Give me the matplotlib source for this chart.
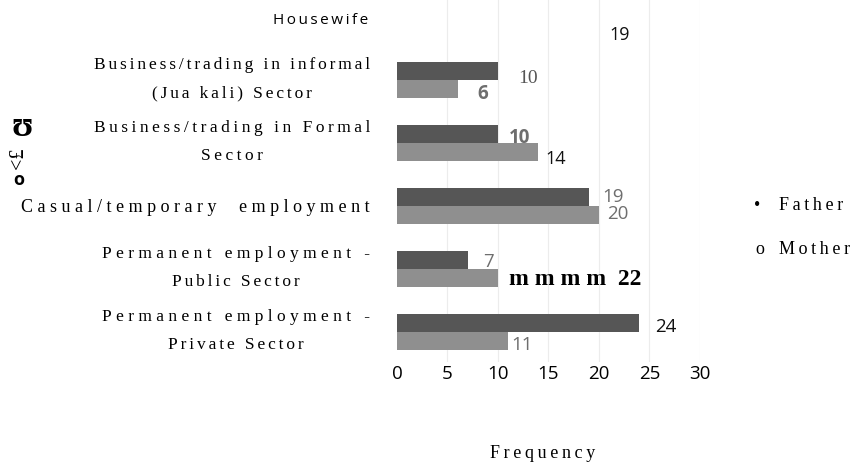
import numpy as np
import matplotlib
matplotlib.use("Agg")
import matplotlib.pyplot as plt

# data (bottom to top, as drawn in the scan)
categories = [
    "Permanent employment -\nPrivate Sector",
    "Permanent employment -\nPublic Sector",
    "Casual/temporary  employment",
    "Business/trading in Formal\nSector",
    "Business/trading in informal\n(Jua kali) Sector",
    "Housewife",
]
father = [24, 7, 19, 10, 10, np.nan]
mother = [11, 10, 20, 14, 6, np.nan]
father_labels = ["24", "7", "19", "10", "10", ""]
mother_labels = ["11", "m m m m  22", "20", "14", "6", "19"]
xticks = [0, 5, 10, 15, 20, 25, 30]

W, H = 853, 467
SERIF = ["Liberation Serif", "DejaVu Serif"]
SANS = ["Open Sans", "DejaVu Sans"]

# letter spacing of each scanned label line (per category, per line)
THIN, FOUR, SIX = "\u2009", "\u2005", "\u2006"
cat_sep = [(FOUR, SIX), (FOUR, SIX), (FOUR,), (THIN, THIN), (SIX, SIX), (THIN,)]
cat_size = [12.5, 12.5, 13, 12.5, 12.5, 11]


def spaced(s, seps=(THIN,)):
    # fake letter spacing of the scanned labels
    lines = s.split("\n")
    return "\n".join(seps[min(k, len(seps) - 1)].join(line) for k, line in enumerate(lines))


def fx(x):
    return x / W


def fy(y):
    return 1 - y / H


fig = plt.figure(figsize=(W / 100, H / 100), dpi=100)
ax = fig.add_axes([fx(397), fy(362), fx(700) - fx(397), fy(0) - fy(362)])

y = np.arange(len(categories))
h = 0.29
ax.barh(y + h / 2, father, height=h, color="#565656", zorder=2)
ax.barh(y - h / 2, mother, height=h, color="#8f8f8f", zorder=2)

ax.set_xlim(0, 30)
ax.set_ylim(-0.476, 5.27)
ax.set_xticks(xticks)
ax.set_xticklabels([str(t) for t in xticks], fontsize=13.5, family=SANS)
ax.tick_params(axis="x", length=0, pad=2)
ax.set_yticks([])
for s in ax.spines.values():
    s.set_visible(False)
for t in xticks[1:]:
    ax.axvline(t, color="#ececec", lw=0.8, zorder=1)

# category labels
for i, cat in enumerate(categories):
    if cat == "Housewife":
        ax.annotate(spaced(cat, cat_sep[i]), (0, i), xytext=(-29, -3), textcoords="offset pixels",
                    ha="right", va="center", fontsize=cat_size[i], family=SANS)
    else:
        dy = 1 if "\n" in cat else -1
        ax.annotate(spaced(cat, cat_sep[i]), (0, i), xytext=(-27, dy), textcoords="offset pixels",
                    ha="right", va="center", multialignment="center",
                    fontsize=cat_size[i], family=SERIF, linespacing=2.0)

# value labels: offsets in pixels from the bar end
f_off = [(26, -4), (21, -2), (24, 0), (22, -4), (30, -8), (0, 0)]
m_off = [(14, -4), (11, -1), (19, 1), (17, -7), (25, -5), (31, -9)]
f_style = [("#111111", SANS, "normal", 13.5), ("#6e6e6e", SANS, "normal", 13.5),
           ("#6e6e6e", SANS, "normal", 13.5), ("#6e6e6e", SANS, "bold", 13.5),
           ("#555555", SERIF, "normal", 14), ("#111111", SANS, "normal", 13)]
m_style = [("#6e6e6e", SANS, "normal", 13.5), ("#000000", SERIF, "bold", 17),
           ("#6e6e6e", SANS, "normal", 13.5), ("#111111", SANS, "normal", 13),
           ("#6e6e6e", SANS, "bold", 13.5), ("#111111", SANS, "normal", 13)]

for i in range(len(categories)):
    if father_labels[i]:
        c, fam, wt, fs = f_style[i]
        ax.annotate(father_labels[i], (father[i], y[i] + h / 2), xytext=f_off[i],
                    textcoords="offset pixels", ha="center", va="center",
                    color=c, family=fam, fontweight=wt, fontsize=fs)
    if mother_labels[i]:
        c, fam, wt, fs = m_style[i]
        xv = mother[i] if not np.isnan(mother[i]) else float(mother_labels[i])
        ha = "left" if mother_labels[i].startswith("m") else "center"
        ax.annotate(mother_labels[i], (xv, y[i] - h / 2), xytext=m_off[i],
                    textcoords="offset pixels", ha=ha, va="center",
                    color=c, family=fam, fontweight=wt, fontsize=fs)

# legend as plain text, like the scan
fig.text(fx(757), fy(206), "\u2022", ha="center", va="center", fontsize=13, family=SERIF)
fig.text(fx(779), fy(206), spaced("Father"), ha="left", va="center", fontsize=13, family=SERIF)
fig.text(fx(760), fy(249), "o", ha="center", va="center", fontsize=13, family=SERIF)
fig.text(fx(779), fy(249), spaced("Mother"), ha="left", va="center", fontsize=13, family=SERIF)

# axis title
fig.text(fx(543), fy(454), spaced("Frequency"), ha="center", va="center", fontsize=13, family=SERIF)

# garbled y-axis title of the scan
fig.text(fx(22), fy(127), "\u028a", ha="center", va="center", fontsize=25,
         fontweight="bold", family=SERIF)
fig.text(fx(19), fy(158), "<\u00a3", ha="center", va="center", fontsize=14.5,
         rotation=90, family=SERIF)
fig.text(fx(19), fy(180), "o", ha="center", va="center", fontsize=13,
         fontweight="bold", family=SANS)

fig.savefig("out.png", dpi=100)
